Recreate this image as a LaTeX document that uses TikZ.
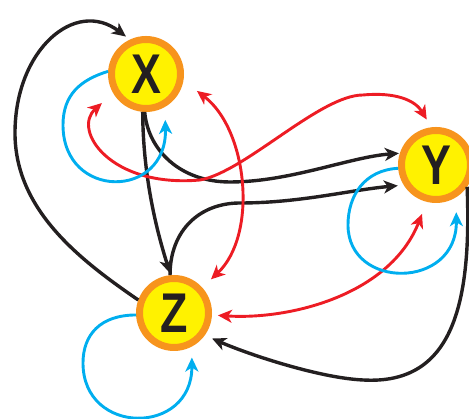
\documentclass[tikz,border=0pt]{standalone}
\usepackage{fontspec}
\setmainfont{Liberation Sans}
\usetikzlibrary{arrows.meta}
\definecolor{ringorange}{HTML}{F7941D}
\definecolor{discyellow}{HTML}{FFF200}
\definecolor{inkblack}{HTML}{231F20}
\definecolor{arcred}{HTML}{ED1C24}
\definecolor{arcblue}{HTML}{00AEEF}
\newcommand{\narrowletter}[1]{\scalebox{0.8}[1]{#1}}
\begin{document}
\begin{tikzpicture}[x=1pt,y=1pt]

      \tikzset{enclosed/.style={draw=ringorange, line width=7pt, circle, inner sep=0pt, minimum size=69pt, fill=discyellow, text=inkblack, font=\fontsize{56}{56}\selectfont\bfseries},
        blackarc/.style={draw=inkblack, line width=3.4pt, -{Stealth[length=14pt, width=13pt, inset=4pt]}},
        redarc/.style={draw=arcred, line width=2.9pt, {Stealth[length=14pt, width=13pt, inset=4pt]}-{Stealth[length=14pt, width=13pt, inset=4pt]}},
        bluearc/.style={draw=arcblue, line width=2.9pt, -{Stealth[length=14pt, width=13pt, inset=4pt]}}}
      \useasboundingbox (0,0) rectangle (469,419);
%% Vertices
      	\node[enclosed] (X) at (146,345) {\narrowletter{X}};
      	\node[enclosed] (Y) at (436,254) {\narrowletter{Y}};
    	\node[enclosed] (Z) at (174,106) {\narrowletter{Z}};
%Edges
		\draw[blackarc, shorten >=5pt] (Z.160) .. controls (80,159) and (15,209) .. (15,286) .. controls (15,369) and (75,421) .. (X.115);
		\draw[blackarc, shorten >=2pt] (X.265) .. controls (143,239) and (158,184) .. (Z.95);
		\draw[blackarc, shorten >=1pt] (X.268) .. controls (148,269) and (180,237) .. (230,237) .. controls (290,237) and (350,262) .. (Y.162);
		\draw[blackarc, shorten >=6pt] (Z.96) .. controls (170,189) and (200,216) .. (240,216) .. controls (300,216) and (350,229) .. (Y.212);
		\draw[blackarc, shorten >=8pt] (Y.-35) .. controls (472,109) and (450,34) .. (363,39) .. controls (320,41) and (250,64) .. (Z.-36);
		\draw[redarc, shorten <=15pt, shorten >=9pt] (X.210) .. controls (72,289) and (110,231) .. (200,239) .. controls (245,247) and (320,324) .. (363,324) .. controls (395,327) and (415,319) .. (Y.97);
		\draw[redarc, shorten <=17pt, shorten >=12pt] (X.-10) .. controls (248,289) and (258,184) .. (Z.42);
		\draw[redarc, shorten <=13pt, shorten >=6pt] (Y.256) .. controls (390,124) and (290,99) .. (Z.-3);
		\draw[bluearc, shorten >=13pt] (X.176) .. controls (80,339) and (63,324) .. (63,294) .. controls (63,219) and (167,219) .. (X.-60);
		\draw[bluearc, shorten >=15pt] (Y.185) .. controls (365,249) and (348,224) .. (348,194) .. controls (348,129) and (457,129) .. (Y.-58);
		\draw[bluearc, shorten >=11pt] (Z.183) .. controls (100,104) and (83,84) .. (83,56) .. controls (83,-17) and (192,-17) .. (Z.-62);

	\end{tikzpicture}
\end{document}
